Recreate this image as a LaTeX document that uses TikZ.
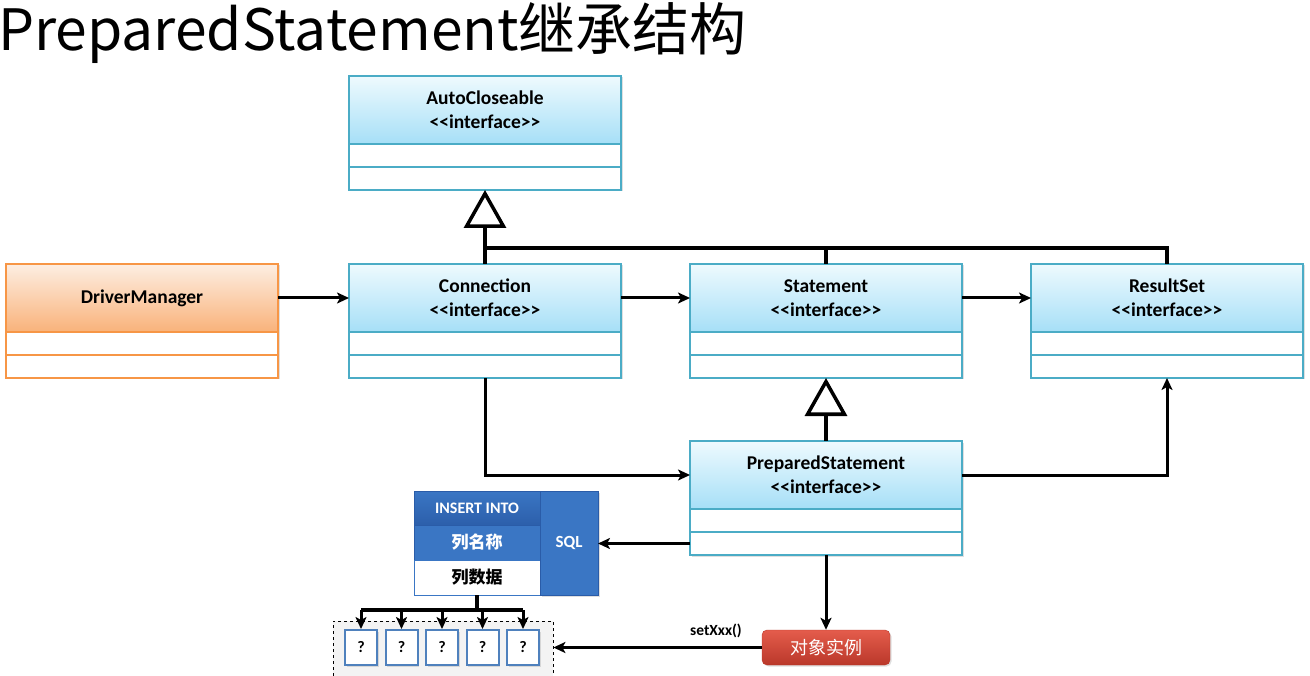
\documentclass[tikz,border=0pt]{standalone}
\usepackage{fontspec}
\setmainfont{Carlito}
\newfontfamily\cjk{Noto Sans CJK SC}
\usetikzlibrary{arrows.meta, positioning, shadows, calc}
\definecolor{ifaceborder}{HTML}{4BACC6}
\definecolor{ifacetop}{HTML}{EEFAFE}
\definecolor{ifacebot}{HTML}{A6DFF7}
\definecolor{mgrborder}{HTML}{F79646}
\definecolor{mgrtop}{HTML}{FDEEE2}
\definecolor{mgrbot}{HTML}{F9B27A}
\definecolor{sqldark}{HTML}{2C5FAB}
\definecolor{sqlmid}{HTML}{3A76C4}
\definecolor{sqlborder}{HTML}{2A5CA8}
\definecolor{qborder}{HTML}{4F81BD}
\definecolor{objtop}{HTML}{E45C4C}
\definecolor{objbot}{HTML}{BA382A}
\definecolor{holdgray}{HTML}{F3F3F3}

\newcommand{\stereo}{<\kern0pt<interface>\kern0pt>}

\tikzset{
  softshadow/.style={drop shadow={opacity=0.25, shadow xshift=1.5pt, shadow yshift=-1.5pt}},
  classhead/.style={rectangle, draw=ifaceborder, line width=1.5pt, outer sep=0pt,
    top color=ifacetop, bottom color=ifacebot, minimum width=272pt, minimum height=68pt,
    align=center, inner sep=0pt, font=\fontsize{19.5}{24}\selectfont\bfseries, softshadow},
  classrow/.style={rectangle, draw=ifaceborder, line width=1.5pt, outer sep=0pt,
    fill=white, minimum width=272pt, minimum height=23pt, inner sep=0pt, softshadow},
  mgrhead/.style={classhead, draw=mgrborder, top color=mgrtop, bottom color=mgrbot},
  mgrrow/.style={classrow, draw=mgrborder},
  link/.style={draw, line width=3pt, -{Stealth[length=12pt, width=11pt, inset=3pt]}},
  bar/.style={draw, line width=3.5pt},
  inherit/.style={draw, line width=3.5pt, -{Triangle[open, length=38pt, width=42pt, fill=white]}},
  sqlcell/.style={rectangle, draw=sqlborder, line width=0.8pt, outer sep=0pt, inner sep=0pt,
    minimum width=126pt, minimum height=35pt, text=white},
  qbox/.style={rectangle, draw=qborder, line width=2pt, fill=white, minimum width=32pt,
    minimum height=35pt, inner sep=0pt, font=\fontsize{16}{18}\selectfont\bfseries, softshadow},
  objbox/.style={rectangle, rounded corners=5pt, top color=objtop, bottom color=objbot,
    draw=objbot, minimum width=128pt, minimum height=35pt, text=white,
    font=\cjk\fontsize{18}{20}\selectfont, softshadow}
}

\begin{document}
\begin{tikzpicture}[x=1pt, y=-1pt]
\useasboundingbox (0,0) rectangle (1310,676);

% title
\node[anchor=base west, inner sep=0pt, font=\cjk\fontsize{57}{60}\selectfont] (title)
  at (-2,51) {PreparedStatement继承结构};

% classes
\node[classhead, anchor=north west] (auto) at (349,76) {AutoCloseable\\\stereo};
\node[classrow, below=0pt of auto] (auto1) {};
\node[classrow, below=0pt of auto1] (auto2) {};

\node[mgrhead, anchor=north west] (dm) at (6,264) {DriverManager};
\node[mgrrow, below=0pt of dm] (dm1) {};
\node[mgrrow, below=0pt of dm1] (dm2) {};

\node[classhead, anchor=north west] (conn) at (349,264) {Connection\\\stereo};
\node[classrow, below=0pt of conn] (conn1) {};
\node[classrow, below=0pt of conn1] (conn2) {};

\node[classhead, anchor=north west] (stmt) at (690,264) {Statement\\\stereo};
\node[classrow, below=0pt of stmt] (stmt1) {};
\node[classrow, below=0pt of stmt1] (stmt2) {};

\node[classhead, anchor=north west] (rs) at (1031,264) {ResultSet\\\stereo};
\node[classrow, below=0pt of rs] (rs1) {};
\node[classrow, below=0pt of rs1] (rs2) {};

\node[classhead, anchor=north west] (ps) at (690,441) {PreparedStatement\\\stereo};
\node[classrow, below=0pt of ps] (ps1) {};
\node[classrow, below=0pt of ps1] (ps2) {};

% inheritance
\draw[bar] (conn.north) -- ++(0,-16) coordinate (jc);
\draw[bar] (stmt.north) |- (jc);
\draw[bar] (rs.north) |- (jc);
\draw[inherit] (jc) -- (auto2.south);
\draw[inherit] (ps.north) -- (stmt2.south);

% associations
\draw[link] (dm) -- (conn);
\draw[link] (conn) -- (stmt);
\draw[link] (stmt) -- (rs);
\draw[link] (conn2.south) |- (ps.west);
\draw[link] (ps.east) -| (rs2.south);

% sql block
\node[sqlcell, anchor=north west, top color=sqlmid, bottom color=sqldark, minimum height=34pt,
      font=\fontsize{16}{18}\selectfont\bfseries] (ins) at (414,491) {INSERT INTO};
\node[sqlcell, below=0pt of ins, fill=sqlmid, font=\cjk\bfseries\fontsize{17}{19}\selectfont] (colname) {列名称};
\node[sqlcell, below=0pt of colname, fill=white, text=black, draw=sqlmid,
      font=\cjk\bfseries\fontsize{17}{19}\selectfont] (coldata) {列数据};
\node[sqlcell, anchor=north west, fill=sqlmid, minimum width=58pt, minimum height=104pt,
      font=\fontsize{17}{19}\selectfont\bfseries, softshadow] (sql) at (540,491) {SQL};
\draw[link] (ps2.west) -- (ps2.west -| sql.east);

% placeholders
\node[rectangle, draw, dashed, fill=holdgray, anchor=north west, minimum width=220pt,
      minimum height=60pt, inner sep=0pt] (holder) at (333,621) {};
\foreach \i in {1,...,5}
  \node[qbox] (q\i) at ({361+40.5*(\i-1)},647.5) {?};
\draw[bar] (coldata.south) -- ++(0,15) coordinate (qbar);
\draw[bar] (qbar -| q1.north) -- (qbar -| q5.north);
\foreach \i in {1,...,5}
  \draw[link] (qbar -| q\i.north) -- (q\i.north);

% object instance
\node[objbox] (obj) at (826,647.5) {对象实例};
\draw[link] (ps2.south) -- (obj.north);
\draw[link] (obj.west) -- node[pos=0.22, above=5pt, font=\fontsize{15.5}{18}\selectfont\bfseries] (setter) {setXxx()}
  (obj.west -| holder.east);
\end{tikzpicture}
\end{document}
